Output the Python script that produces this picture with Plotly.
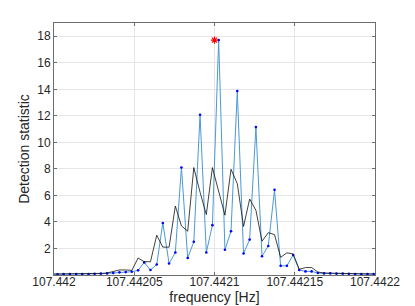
import plotly.graph_objects as go

# frequency bins [Hz]
freq = [
    107.4419983, 107.4420022, 107.4420060, 107.4420099, 107.4420138, 107.4420176,
    107.4420215, 107.4420253, 107.4420292, 107.4420331, 107.4420369, 107.4420408,
    107.4420447, 107.4420485, 107.4420524, 107.4420562, 107.4420601, 107.4420640,
    107.4420678, 107.4420717, 107.4420756, 107.4420794, 107.4420833, 107.4420871,
    107.4420910, 107.4420949, 107.4420987, 107.4421026, 107.4421065, 107.4421103,
    107.4421142, 107.4421181, 107.4421219, 107.4421258, 107.4421296, 107.4421335,
    107.4421374, 107.4421412, 107.4421451, 107.4421490, 107.4421528, 107.4421567,
    107.4421605, 107.4421644, 107.4421683, 107.4421721, 107.4421760, 107.4421799,
    107.4421837, 107.4421876, 107.4421915, 107.4421953, 107.4421992,
]

stat_blue = [
    0.06, 0.06, 0.07, 0.07, 0.07, 0.08, 0.08, 0.09,
    0.10, 0.12, 0.15, 0.20, 0.22, 0.25, 0.35, 0.95, 0.38, 0.79, 3.92, 0.87,
    1.70, 8.10, 1.28, 2.50, 12.08, 1.70, 3.76, 17.71, 1.90, 3.30, 13.87, 1.62,
    2.67, 11.15, 1.41, 2.19, 6.42, 0.69, 0.69, 1.51, 0.38, 0.27, 0.27, 0.15,
    0.12, 0.12, 0.10, 0.10, 0.09, 0.08, 0.08, 0.07, 0.07,
]

stat_black = [
    0.07, 0.07, 0.08, 0.08, 0.08, 0.09, 0.09, 0.10,
    0.12, 0.15, 0.25, 0.38, 0.38, 0.35, 1.28, 1.00, 1.00, 3.00, 2.10, 2.10,
    5.20, 3.70, 3.30, 8.10, 6.24, 4.56, 8.10, 6.37, 4.51, 7.97, 6.89, 3.66,
    5.73, 4.88, 2.55, 3.19, 3.05, 1.33, 1.67, 1.59, 0.43, 0.56, 0.56, 0.22,
    0.15, 0.14, 0.12, 0.11, 0.10, 0.09, 0.09, 0.08, 0.08,
]

star_freq = [107.4421]
star_val = [17.71]

xtick_vals = [107.442, 107.44205, 107.4421, 107.44215, 107.4422]
xtick_text = ["107.442", "107.44205", "107.4421", "107.44215", "107.4422"]
ytick_vals = [2, 4, 6, 8, 10, 12, 14, 16, 18]

font_family = "Liberation Sans, Arial, Helvetica, sans-serif"

fig = go.Figure()
fig.add_trace(go.Scatter(
    x=freq, y=stat_blue, mode="lines+markers",
    line=dict(color="#4a9ad4", width=1),
    marker=dict(color="#0000ff", size=2.6),
    showlegend=False,
))
fig.add_trace(go.Scatter(
    x=freq, y=stat_black, mode="lines",
    line=dict(color="#111111", width=0.8),
    showlegend=False,
))
fig.add_trace(go.Scatter(
    x=star_freq, y=star_val, mode="markers",
    marker=dict(symbol="asterisk-open", color="#ff0000", size=6,
                line=dict(color="#ff0000", width=1.2)),
    showlegend=False,
))

axis_common = dict(
    showline=True, linecolor="#6e6e6e", linewidth=1, mirror="allticks",
    ticks="inside", ticklen=3, tickcolor="#6e6e6e", tickwidth=1,
    showgrid=True, gridcolor="#e6e6e6", gridwidth=1, zeroline=False,
    automargin=False,
    tickfont=dict(family=font_family, size=12, color="#262626"),
)

# page body has an 8px default margin, so the figure is sized to fit inside it
fig.update_layout(
    width=407, height=298,
    margin=dict(l=46, r=40, t=15, b=31, autoexpand=False),
    paper_bgcolor="white", plot_bgcolor="white",
    font=dict(family=font_family, color="#262626"),
    xaxis=dict(
        range=[107.442, 107.4422],
        tickvals=xtick_vals, ticktext=xtick_text,
        ticklabelstandoff=-4,
        title=dict(text="frequency [Hz]", font=dict(family=font_family, size=14, color="#262626"), standoff=2),
        **axis_common,
    ),
    yaxis=dict(
        range=[0, 19],
        tickvals=ytick_vals,
        title=dict(text="Detection statistic", font=dict(family=font_family, size=14, color="#262626"), standoff=4),
        **axis_common,
    ),
)

fig.write_html("out.html")
